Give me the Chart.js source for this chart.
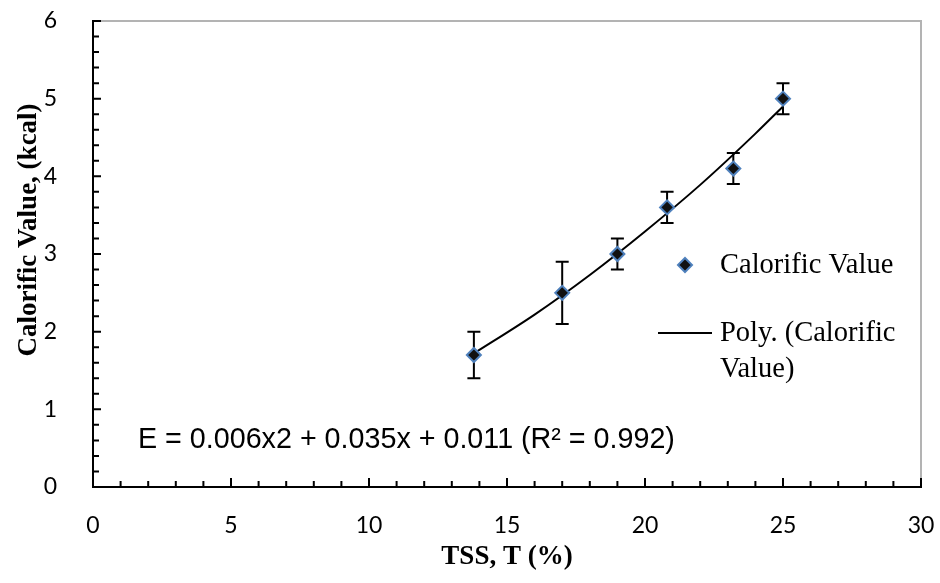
<!DOCTYPE html>
<html>
<head>
<meta charset="utf-8">
<script src="https://cdn.jsdelivr.net/npm/chart.js@4.4.0/dist/chart.umd.min.js"></script>
<style>
  html, body { margin: 0; padding: 0; background: #fff; }
  #chart { display: block; }
</style>
</head>
<body>
<canvas id="chart" width="940" height="583"></canvas>
<script>
// measured points
var tss = [13.8, 17, 19, 20.8, 23.2, 25];
var calorific = [1.7, 2.5, 3.0, 3.6, 4.1, 5.0];
var errors = [0.3, 0.4, 0.2, 0.2, 0.2, 0.2];

// poly trend line
var trendX = [13.8, 16, 18, 20, 22, 24, 25];
var trendY = [1.72, 2.22, 2.73, 3.29, 3.89, 4.55, 4.90];

var xTicks = [0, 5, 10, 15, 20, 25, 30];
var yTicks = [0, 1, 2, 3, 4, 5, 6];

var seriesName = 'Calorific Value';
var trendName = ['Poly. (Calorific', 'Value)'];
var equation = 'E = 0.006x2 + 0.035x + 0.011 (R\u00b2 = 0.992)';
var xTitle = 'TSS, T (%)';
var yTitle = 'Calorific Value, (kcal)';

var markerFill = '#111111';
var markerBorder = '#4F81BD';

function toPoints(xs, ys) {
  return xs.map(function (x, i) {
    return { x: x, y: ys[i] };
  });
}

var errorBars = {
  id: 'errorBars',
  beforeDatasetsDraw: function (chart) {
    var ctx = chart.ctx;
    var xs = chart.scales.x;
    var ys = chart.scales.y;
    ctx.save();
    ctx.strokeStyle = '#000';
    ctx.lineWidth = 2;
    tss.forEach(function (t, i) {
      var px = xs.getPixelForValue(t);
      var top = ys.getPixelForValue(calorific[i] + errors[i]);
      var bot = ys.getPixelForValue(calorific[i] - errors[i]);
      ctx.beginPath();
      ctx.moveTo(px, top);
      ctx.lineTo(px, bot);
      ctx.moveTo(px - 6.5, top);
      ctx.lineTo(px + 6.5, top);
      ctx.moveTo(px - 6.5, bot);
      ctx.lineTo(px + 6.5, bot);
      ctx.stroke();
    });
    ctx.restore();
  }
};

var decorations = {
  id: 'decorations',
  afterDraw: function (chart) {
    var ctx = chart.ctx;
    var area = chart.chartArea;
    var xs = chart.scales.x;
    var ys = chart.scales.y;
    var v, p;

    ctx.save();

    // grey frame on top and right
    ctx.strokeStyle = '#b3b3b3';
    ctx.lineWidth = 2;
    ctx.beginPath();
    ctx.moveTo(area.left, area.top);
    ctx.lineTo(area.right, area.top);
    ctx.lineTo(area.right, area.bottom);
    ctx.stroke();

    // inward tick marks
    ctx.strokeStyle = '#000';
    ctx.lineWidth = 2;
    ctx.beginPath();
    for (v = 0; v <= 30; v++) {
      p = xs.getPixelForValue(v);
      ctx.moveTo(p, area.bottom);
      ctx.lineTo(p, area.bottom - (v % 5 === 0 ? 9 : 6));
    }
    for (v = 0; v <= 30; v++) {
      p = ys.getPixelForValue(v / 5);
      ctx.moveTo(area.left, p);
      ctx.lineTo(area.left + (v % 5 === 0 ? 8 : 6), p);
    }
    ctx.stroke();

    // equation label
    ctx.fillStyle = '#000';
    ctx.font = '28.7px "Liberation Sans", Arial, sans-serif';
    ctx.textAlign = 'left';
    ctx.textBaseline = 'middle';
    ctx.fillText(equation, 138, 440);

    // legend
    ctx.fillStyle = markerFill;
    ctx.strokeStyle = markerBorder;
    ctx.lineWidth = 2;
    Chart.helpers.drawPoint(ctx, {
      pointStyle: 'rectRot',
      radius: 7,
      borderWidth: 2
    }, 685, 265);

    ctx.font = '28.5px "Liberation Serif", "Times New Roman", serif';
    ctx.fillStyle = '#000';
    ctx.fillText(seriesName, 720, 266);

    ctx.strokeStyle = '#000';
    ctx.lineWidth = 2;
    ctx.beginPath();
    ctx.moveTo(658, 333);
    ctx.lineTo(712, 333);
    ctx.stroke();
    ctx.fillText(trendName[0], 720, 334);
    ctx.fillText(trendName[1], 720, 370);

    // axis titles
    ctx.font = 'bold 27px "Liberation Serif", "Times New Roman", serif';
    ctx.textAlign = 'center';
    ctx.fillText(xTitle, (area.left + area.right) / 2, 557);
    ctx.translate(29, 230);
    ctx.rotate(-Math.PI / 2);
    ctx.fillText(yTitle, 0, 0);

    ctx.restore();
  }
};

var chart = new Chart(document.getElementById('chart').getContext('2d'), {
  type: 'scatter',
  data: {
    datasets: [{
      label: seriesName,
      data: toPoints(tss, calorific),
      pointStyle: 'rectRot',
      pointRadius: 7,
      pointHoverRadius: 7,
      borderWidth: 2,
      backgroundColor: markerFill,
      borderColor: markerBorder,
      showLine: false
    }, {
      label: trendName.join(' '),
      type: 'line',
      data: toPoints(trendX, trendY),
      borderColor: '#000',
      borderWidth: 2,
      pointRadius: 0,
      cubicInterpolationMode: 'monotone',
      fill: false
    }]
  },
  options: {
    responsive: false,
    animation: false,
    events: [],
    layout: {
      padding: { top: 21, right: 19, left: 0, bottom: 0 }
    },
    plugins: {
      legend: { display: false },
      tooltip: { enabled: false }
    },
    scales: {
      x: {
        type: 'linear',
        min: 0,
        max: 30,
        afterFit: function (scale) {
          scale.height = 96;
          scale.paddingLeft = 0;
          scale.paddingRight = 0;
        },
        afterBuildTicks: function (scale) {
          scale.ticks = xTicks.map(function (v) { return { value: v }; });
        },
        grid: { display: false },
        border: { display: true, color: '#000', width: 2 },
        ticks: {
          color: '#000',
          padding: 17,
          maxRotation: 0,
          font: { family: 'Lato', size: 23 }
        }
      },
      y: {
        type: 'linear',
        min: 0,
        max: 6,
        afterFit: function (scale) {
          scale.width = 93;
          scale.paddingTop = 0;
          scale.paddingBottom = 0;
        },
        afterBuildTicks: function (scale) {
          scale.ticks = yTicks.map(function (v) { return { value: v }; });
        },
        grid: { display: false },
        border: { display: true, color: '#000', width: 2 },
        ticks: {
          color: '#000',
          padding: 28,
          font: { family: 'Lato', size: 23 }
        }
      }
    }
  },
  plugins: [errorBars, decorations]
});
</script>
</body>
</html>
